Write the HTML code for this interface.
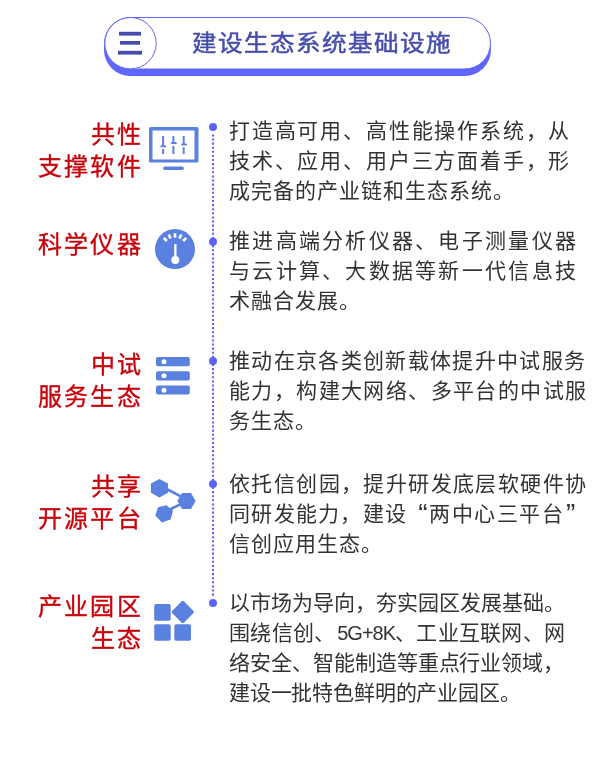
<!DOCTYPE html>
<html lang="zh-CN"><head><meta charset="utf-8">
<style>
*{margin:0;padding:0;box-sizing:border-box}
html,body{width:600px;height:768px;background:#fff;overflow:hidden}
body{position:relative;font-family:"Liberation Sans",sans-serif}
.t,.lb,.htitle{will-change:transform}
svg.ov{position:absolute;left:0;top:0;width:600px;height:768px}
.htitle{position:absolute;left:192px;top:27px;font-size:23px;color:#464dac;line-height:32px;letter-spacing:1.3px;white-space:nowrap;-webkit-text-stroke:0.45px #464dac;transform:scaleX(1.07);transform-origin:0 0}
.lb{position:absolute;right:457px;color:#c8000a;font-size:24px;line-height:32px;letter-spacing:2.2px;white-space:nowrap;-webkit-text-stroke:0.35px #c8000a}
.t{position:absolute;left:229px;color:#333;font-size:21px;line-height:30px;white-space:nowrap;letter-spacing:1px}
.q{display:inline-block;width:22px;font-size:28px;line-height:30px;height:30px;vertical-align:top;letter-spacing:0;position:relative;top:0px}
.lat{font-size:20px;letter-spacing:-1px;margin-left:2px}
</style></head><body>
<svg class="ov" viewBox="0 0 600 768">
  <!-- header -->
  <rect x="104" y="23.5" width="387" height="52.5" rx="26.25" fill="#5e66fc"/>
  <rect x="104.5" y="17.5" width="386" height="51.5" rx="25.75" fill="#fff" stroke="#6067f6" stroke-width="1"/>
  <circle cx="130.5" cy="43.2" r="25.7" fill="#fff" stroke="#6067f6" stroke-width="1"/>
  <rect x="119" y="31.8" width="22" height="3.8" fill="#464dac"/>
  <rect x="120" y="41" width="20" height="3.7" fill="#464dac"/>
  <rect x="118" y="50.8" width="24" height="3.8" fill="#464dac"/>
  <!-- timeline -->
  <line x1="213" y1="134.4" x2="213" y2="597" stroke="#5c63f8" stroke-width="2" stroke-dasharray="2.05 2.05"/>
  <circle cx="213" cy="127" r="4" fill="#5c63f8"/>
  <circle cx="213" cy="241.7" r="4" fill="#5c63f8"/>
  <circle cx="213" cy="361" r="4" fill="#5c63f8"/>
  <circle cx="213" cy="484" r="4" fill="#5c63f8"/>
  <circle cx="213" cy="603" r="4" fill="#5c63f8"/>
  <g fill="#5a80e0">
    <!-- icon1 monitor -->
    <path fill-rule="evenodd" d="M150.5 127h46.5a1.5 1.5 0 0 1 1.5 1.5v32.6a1.5 1.5 0 0 1-1.5 1.5h-46.5a1.5 1.5 0 0 1-1.5-1.5v-32.6a1.5 1.5 0 0 1 1.5-1.5zM152.5 130.5v29h42v-29z"/>
    <rect x="163.2" y="166.5" width="20.7" height="3.4" rx="1.7"/>
    <rect x="162.1" y="136" width="2" height="9.5"/>
    <path d="M160.8 145.2h5l0.4 2.1h-5.8z"/>
    <rect x="162.1" y="149" width="2" height="5"/>
    <rect x="172.4" y="136" width="2" height="6.2"/>
    <path d="M171.4 142h5l0.4 1.9h-5.8z"/>
    <rect x="172.4" y="145.9" width="2" height="8.1"/>
    <rect x="182.7" y="136" width="2" height="8"/>
    <path d="M181.6 143.4h5l0.4 2h-5.8z"/>
    <rect x="182.7" y="147.3" width="2" height="6.7"/>
    <!-- icon2 gauge -->
    <circle cx="175" cy="249.1" r="20"/>
    <!-- icon3 servers -->
    <rect x="156" y="357.1" width="33.8" height="9.2" rx="2"/>
    <rect x="156" y="371.25" width="33.8" height="9.2" rx="2"/>
    <rect x="156" y="385.4" width="33.8" height="9.2" rx="2"/>
    <!-- icon4 hexes -->
    <line x1="159.4" y1="485.3" x2="186.5" y2="499.4" stroke="#5a80e0" stroke-width="2.7"/>
    <line x1="164.3" y1="512.1" x2="186.5" y2="501.4" stroke="#5a80e0" stroke-width="2.7"/>
    <polygon points="159.4,478.9 168,483.6 168,492.8 159.4,497.5 150.9,492.8 150.9,483.6"/>
    <polygon points="177.4,500.9 182,492.9 191,492.9 195.6,500.9 191,508.9 182,508.9"/>
    <polygon points="155.3,515.4 158,507.3 166.4,505.3 173,511 170.6,519.4 162,522.6"/>
    <!-- icon5 grid -->
    <rect x="154.2" y="604.1" width="16.5" height="16.7" rx="1.8"/>
    <rect x="154.2" y="624.2" width="16.5" height="16.6" rx="1.8"/>
    <rect x="174.3" y="624.2" width="16.7" height="16.6" rx="1.8"/>
    <rect x="174.45" y="603.65" width="16.7" height="16.7" rx="1.8" transform="rotate(45 182.8 612)"/>
  </g>
  <g fill="#fff">
    <rect x="174.2" y="244" width="2.3" height="14"/>
    <circle cx="175.3" cy="259.9" r="4"/>
    <g transform="rotate(-45 175 249.1)"><rect x="173.65" y="233.2" width="2.7" height="4.4"/></g>
    <g transform="rotate(-23 175 249.1)"><rect x="173.65" y="233.2" width="2.7" height="4.4"/></g>
    <g transform="rotate(0 175 249.1)"><rect x="173.65" y="233.2" width="2.7" height="4.4"/></g>
    <g transform="rotate(23 175 249.1)"><rect x="173.65" y="233.2" width="2.7" height="4.4"/></g>
    <g transform="rotate(45 175 249.1)"><rect x="173.65" y="233.2" width="2.7" height="4.4"/></g>
    <circle cx="164" cy="361.7" r="2.5"/>
    <circle cx="164" cy="375.8" r="2.5"/>
    <circle cx="164" cy="390.2" r="2.5"/>
  </g>
</svg>

<div class="htitle">建设生态系统基础设施</div>

<div class="lb" style="top:119px">共性</div>
<div class="lb" style="top:151px">支撑软件</div>
<div class="t" style="top:116px;letter-spacing:1.82px">打造高可用、高性能操作系统，从</div>
<div class="t" style="top:146px;letter-spacing:1.82px">技术、应用、用户三方面着手，形</div>
<div class="t" style="top:176px">成完备的产业链和生态系统。</div>

<div class="lb" style="top:229px">科学仪器</div>
<div class="t" style="top:226px;letter-spacing:2.27px">推进高端分析仪器、电子测量仪器</div>
<div class="t" style="top:256px;letter-spacing:2.27px">与云计算、大数据等新一代信息技</div>
<div class="t" style="top:286px">术融合发展。</div>

<div class="lb" style="top:349px">中试</div>
<div class="lb" style="top:381px">服务生态</div>
<div class="t" style="top:346px;letter-spacing:1.34px">推动在京各类创新载体提升中试服务</div>
<div class="t" style="top:376px;letter-spacing:1.4px">能力，构建大网络、多平台的中试服</div>
<div class="t" style="top:406px">务生态。</div>

<div class="lb" style="top:471px">共享</div>
<div class="lb" style="top:503px">开源平台</div>
<div class="t" style="top:469px;letter-spacing:1.4px">依托信创园，提升研发底层软硬件协</div>
<div class="t" style="top:499px;letter-spacing:1.3px">同研发能力，建设<span class="q" style="width:21.6px;text-align:right;padding-right:1.5px">“</span><span style="letter-spacing:1.5px">两中心三平台</span><span class="q" style="padding-left:2px">”</span></div>
<div class="t" style="top:529px">信创应用生态。</div>

<div class="lb" style="top:591px">产业园区</div>
<div class="lb" style="top:623px">生态</div>
<div class="t" style="top:588px;letter-spacing:0.03px">以市场为导向，夯实园区发展基础。</div>
<div class="t" style="top:618px;letter-spacing:0.25px">围绕信创、<span class="lat">5G+8K</span>、工业互联网、网</div>
<div class="t" style="top:648px;letter-spacing:-0.05px">络安全、智能制造等重点行业领域，</div>
<div class="t" style="top:678px;letter-spacing:-0.17px">建设一批特色鲜明的产业园区。</div>
</body></html>
